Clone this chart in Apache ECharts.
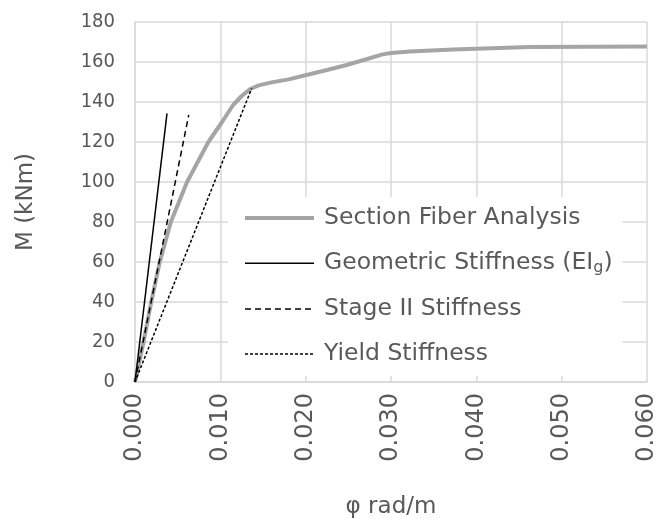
<!DOCTYPE html>
<html>
<head>
<meta charset="utf-8">
<title>M-φ</title>
<script src="https://cdn.jsdelivr.net/npm/echarts@6/dist/echarts.min.js"></script>
<style>
    html, body { margin: 0; padding: 0; background: #fff; }
    #chart { width: 656px; height: 522px; }
</style>
</head>
<body>
<div id="chart"></div>
<script>
// 数据 - 从图中读取
const seriesNames = ['Section Fiber Analysis', 'Geometric Stiffness (EIg)', 'Stage II Stiffness', 'Yield Stiffness'];

const fiberPhi = [0, 0.0010, 0.0019, 0.0029, 0.0042, 0.0061, 0.0086, 0.0102, 0.0115, 0.0125, 0.0135, 0.0145, 0.0160, 0.0180, 0.0201, 0.0225, 0.0248, 0.0272, 0.0290, 0.0300, 0.0322, 0.0373, 0.0463, 0.0600];
const fiberM   = [0, 20, 40, 60, 80, 100, 120, 130, 138.5, 143, 146.5, 148.3, 149.8, 151.3, 153.5, 156, 158.5, 161.5, 163.8, 164.5, 165.3, 166.3, 167.5, 167.8];

const geomPhi = [0, 0.00375];
const geomM   = [0, 134.3];

const stage2Phi = [0, 0.0063];
const stage2M   = [0, 133.5];

const yieldPhi = [0, 0.01367];
const yieldM   = [0, 146.8];

const xTicks = { min: 0, max: 0.06, step: 0.01 };
const yTicks = { min: 0, max: 180, step: 20 };

function pairs(xs, ys) {
    return xs.map((x, i) => [x, ys[i]]);
}

const chart = echarts.init(document.getElementById('chart'));
const font = 'DejaVu Sans';
const textColor = '#595959';
const gridColor = '#d9d9d9';

const option = {
    animation: false,
    backgroundColor: '#fff',
    grid: {
        left: 135,
        right: 9,
        top: 22,
        bottom: 140,
        containLabel: false,
        outerBoundsMode: 'none'
    },
    legend: {
        orient: 'vertical',
        left: 228,
        top: 197,
        padding: [9, 10, 10, 15],
        backgroundColor: '#fff',
        itemWidth: 69,
        itemHeight: 14,
        itemGap: 21.2,
        itemStyle: { opacity: 0 },
        lineStyle: { width: 'inherit' },
        data: seriesNames,
        formatter: function(name) {
            if (name === seriesNames[1]) {
                return 'Geometric Stiffness (EI{sub|g})';
            }
            return name;
        },
        textStyle: {
            fontFamily: font,
            fontSize: 23.5,
            color: textColor,
            padding: [0, 0, 0, 5],
            rich: {
                sub: {
                    fontFamily: font,
                    fontSize: 16,
                    color: textColor,
                    padding: [9, 0, 0, 0]
                }
            }
        }
    },
    xAxis: {
        type: 'value',
        min: xTicks.min,
        max: xTicks.max,
        interval: xTicks.step,
        name: 'φ rad/m',
        nameLocation: 'middle',
        nameGap: 114,
        nameTextStyle: { fontFamily: font, fontSize: 23, color: textColor },
        axisLine: { show: true, lineStyle: { color: gridColor, width: 1.5 } },
        axisTick: { show: false },
        splitLine: { show: true, lineStyle: { color: gridColor, width: 1.5 } },
        axisLabel: {
            rotate: 90,
            margin: 11,
            fontFamily: font,
            fontSize: 24,
            color: textColor,
            formatter: function(v) { return v.toFixed(3); }
        }
    },
    yAxis: {
        type: 'value',
        min: yTicks.min,
        max: yTicks.max,
        interval: yTicks.step,
        name: 'M (kNm)',
        nameLocation: 'middle',
        nameGap: 97,
        nameTextStyle: { fontFamily: font, fontSize: 23, color: textColor },
        axisLine: { show: true, lineStyle: { color: gridColor, width: 1.5 } },
        axisTick: { show: false },
        splitLine: { show: true, lineStyle: { color: gridColor, width: 1.5 } },
        axisLabel: {
            margin: 20,
            fontFamily: 'DejaVu Sans Condensed',
            fontSize: 20,
            color: textColor
        }
    },
    series: [
        {
            name: seriesNames[0],
            type: 'line',
            data: pairs(fiberPhi, fiberM),
            symbol: 'none',
            itemStyle: { color: '#a5a5a5' },
            lineStyle: { color: '#a5a5a5', width: 4 }
        },
        {
            name: seriesNames[1],
            type: 'line',
            data: pairs(geomPhi, geomM),
            symbol: 'none',
            itemStyle: { color: '#000' },
            lineStyle: { color: '#000', width: 1.5 }
        },
        {
            name: seriesNames[2],
            type: 'line',
            data: pairs(stage2Phi, stage2M),
            symbol: 'none',
            itemStyle: { color: '#000' },
            lineStyle: { color: '#000', width: 1.5, type: [6, 4] }
        },
        {
            name: seriesNames[3],
            type: 'line',
            data: pairs(yieldPhi, yieldM),
            symbol: 'none',
            itemStyle: { color: '#000' },
            lineStyle: { color: '#000', width: 1.5, type: [3, 2] }
        }
    ]
};

chart.setOption(option);

window.addEventListener('resize', function() {
    chart.resize();
});
</script>
</body>
</html>
